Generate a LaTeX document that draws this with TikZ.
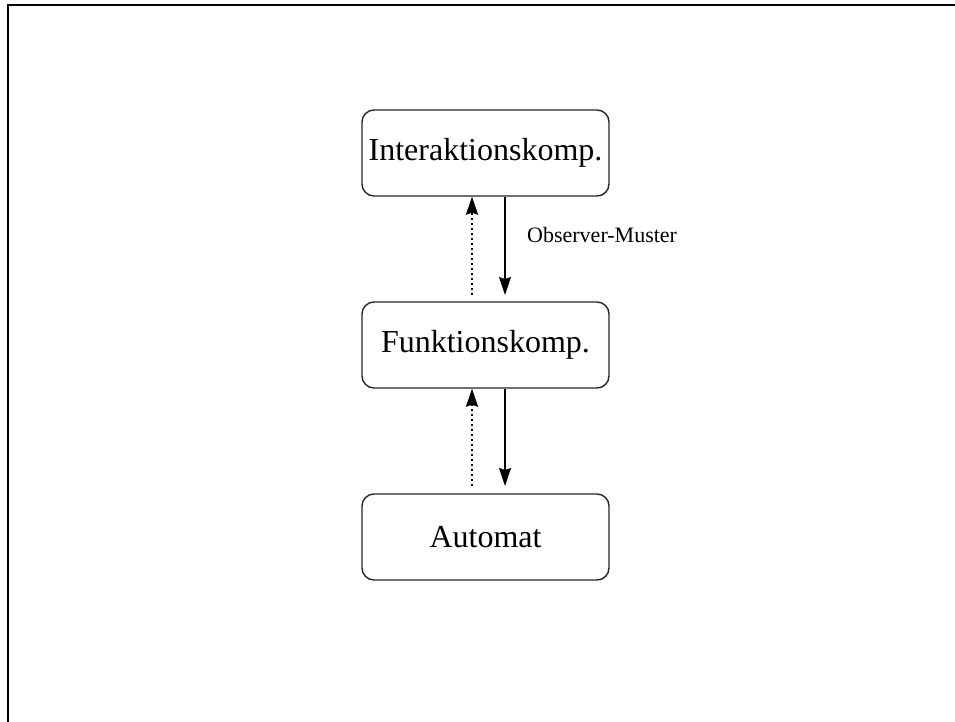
\documentclass[tikz,border=0pt]{standalone}
\usepackage{fontspec}
\setmainfont{Liberation Serif}
\usetikzlibrary{arrows.meta}
\begin{document}
\begin{tikzpicture}[x=1pt,y=-1pt,
  comp/.style={draw=black!85, line width=1.4pt, rounded corners=12pt,
    minimum width=247pt, minimum height=86pt, inner sep=0pt,
    font=\fontsize{32}{36}\selectfont},
  call/.style={line width=1.4pt, -{Stealth[length=18pt,width=12pt,inset=2pt]}},
  notify/.style={call, line width=2pt, dash pattern=on 2pt off 3pt}
]
\useasboundingbox (0,0) rectangle (955,722);
% outer frame (open on right and bottom)
\draw[line width=2pt] (8,722) -- (8,5) -- (955,5);

\node[comp] (ik) at (485.5,153) {Interaktionskomp.};
\node[comp] (fk) at (485.5,345) {Funktionskomp.};
\node[comp] (au) at (485.5,537) {Automat};

% free ends of the arrows, short of the boxes
\coordinate (d1) at (505,295);
\coordinate (u1) at (472,295);
\coordinate (d2) at (505,486);
\coordinate (u2) at (472,486);

\draw[call] (ik.south -| d1) -- (d1);
\draw[notify] (u1) -- (ik.south -| u1);
\draw[call] (fk.south -| d2) -- (d2);
\draw[notify] (u2) -- (fk.south -| u2);

\node[anchor=west, inner sep=0pt, font=\fontsize{22}{25}\selectfont] (obs) at (527,235) {Observer-Muster};
\end{tikzpicture}
\end{document}
